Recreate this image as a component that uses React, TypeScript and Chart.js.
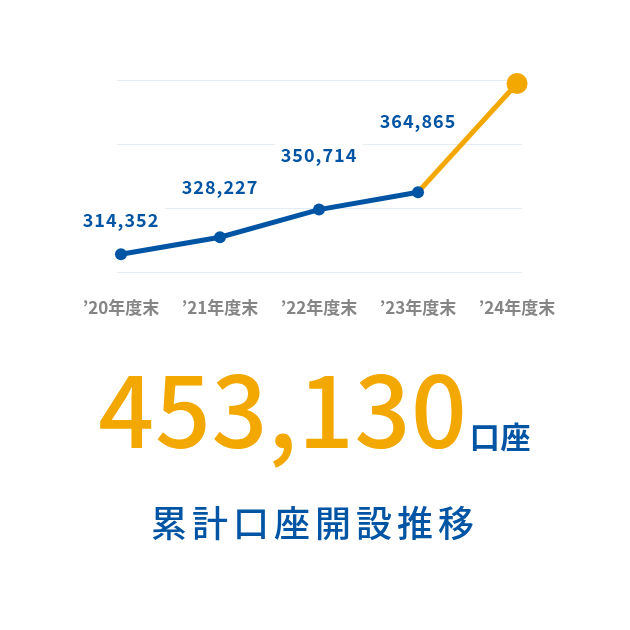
import React, { useEffect, useRef } from "react";
import { Chart, registerables } from "chart.js";

Chart.register(...registerables);

const categories = ["’20年度末", "’21年度末", "’22年度末", "’23年度末", "’24年度末"];
const accounts = [314352, 328227, 350714, 364865, 453130];
const totalLabel = "453,130";
const unitLabel = "口座";
const titleLabel = "累計口座開設推移";

const BLUE = "#0054a4";
const ORANGE = "#f2a800";
const FONT = '"Noto Sans CJK JP", "Noto Sans", sans-serif';

const labelOffsets = [34, 50, 54, 71];

const valueLabelPlugin = {
  id: "valueLabels",
  afterDatasetsDraw(chart: any) {
    const ctx = chart.ctx;
    const meta = chart.getDatasetMeta(0);
    ctx.save();
    ctx.font = `bold 18px ${FONT}`;
    (ctx as any).letterSpacing = "1px";
    ctx.textAlign = "center";
    ctx.textBaseline = "middle";
    for (let i = 0; i < accounts.length - 1; i++) {
      const pt = meta.data[i];
      const text = accounts[i].toLocaleString("en-US");
      const y = pt.y - labelOffsets[i];
      const w = ctx.measureText(text).width + 12;
      ctx.fillStyle = "#ffffff";
      ctx.fillRect(pt.x - w / 2, y - 15, w, 30);
      ctx.fillStyle = BLUE;
      ctx.fillText(text, pt.x, y);
    }
    ctx.restore();
  },
};

function LineChart() {
  const ref = useRef<HTMLCanvasElement>(null);
  useEffect(() => {
    if (!ref.current) return;
    const chart = new Chart(ref.current, {
      type: "line",
      data: {
        datasets: [
          {
            data: accounts.map((v, i) => ({ x: i, y: v })),
            borderColor: BLUE,
            borderWidth: 5,
            pointBackgroundColor: accounts.map((_, i) => (i === accounts.length - 1 ? ORANGE : BLUE)),
            pointBorderColor: accounts.map((_, i) => (i === accounts.length - 1 ? ORANGE : BLUE)),
            pointRadius: accounts.map((_, i) => (i === accounts.length - 1 ? 10.5 : 6)),
            pointBorderWidth: 0,
            clip: false as any,
            segment: {
              borderColor: (c: any) => (c.p1DataIndex === accounts.length - 1 ? ORANGE : BLUE),
            },
          },
        ],
      },
      options: {
        animation: false,
        responsive: false,
        maintainAspectRatio: false,
        events: [],
        layout: { padding: { top: 80, left: 117, right: 108, bottom: 18 } },
        plugins: { legend: { display: false }, tooltip: { enabled: false } },
        scales: {
          x: {
            type: "linear",
            min: -0.04,
            max: 4.05,
            grid: { display: false, drawTicks: false },
            border: { display: false },
            afterFit: (s: any) => {
              s.height = 50;
            },
            afterBuildTicks: (s: any) => {
              s.ticks = categories.map((_, i) => ({ value: i }));
            },
            ticks: {
              padding: 25,
              color: "#858585",
              font: { family: FONT, size: 17, weight: "bold" },
              callback: (v: any) => categories[v as number] ?? "",
              maxRotation: 0,
              autoSkip: false,
            },
          },
          y: {
            min: 300000,
            max: 456000,
            grid: { color: "#e4ecf5", lineWidth: 1, drawTicks: false },
            border: { display: false },
            afterFit: (s: any) => {
              s.width = 0;
            },
            ticks: { display: false, stepSize: 52000 },
          },
        },
      },
      plugins: [valueLabelPlugin],
    });
    return () => chart.destroy();
  }, []);
  return <canvas ref={ref} width={630} height={340} style={{ position: "absolute", left: 0, top: 0, width: 630, height: 340 }} />;
}

export default function App() {
  return (
    <div style={{ position: "absolute", left: 0, top: 0, width: 630, height: 630, background: "#fff", fontFamily: FONT }}>
      <LineChart />
      <div
        style={{
          position: "absolute",
          left: 0,
          width: 630,
          top: 350,
          textAlign: "center",
          whiteSpace: "nowrap",
          lineHeight: "110px",
        }}
      >
        <span style={{ color: ORANGE, fontSize: 98, fontWeight: 500, letterSpacing: 0.7 }}>{totalLabel}</span>
        <span style={{ color: BLUE, fontSize: 30, fontWeight: 700, marginLeft: 2, letterSpacing: 1 }}>{unitLabel}</span>
      </div>
      <div
        style={{
          position: "absolute",
          left: 0,
          width: 630,
          top: 498,
          textAlign: "center",
          color: BLUE,
          fontSize: 36,
          fontWeight: 500,
          letterSpacing: 5,
          lineHeight: "46px",
          whiteSpace: "nowrap",
        }}
      >
        {titleLabel}
      </div>
    </div>
  );
}
